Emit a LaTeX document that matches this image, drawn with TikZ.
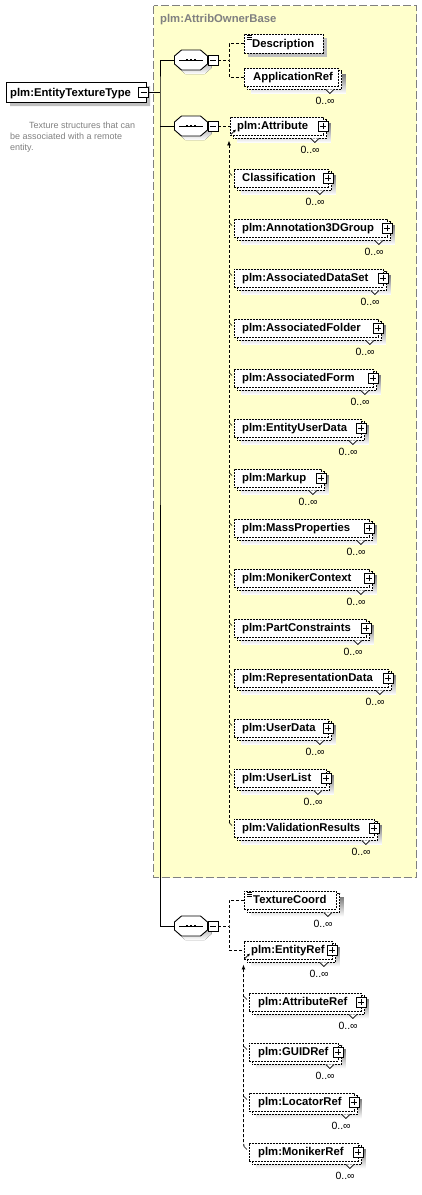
\documentclass[tikz,border=0pt]{standalone}
\usepackage{fontspec}
\setmainfont{Liberation Sans}
\usetikzlibrary{arrows.meta,shapes.misc,shadows}
\definecolor{groupfill}{RGB}{255,255,204}
\definecolor{groupline}{RGB}{128,128,128}
\definecolor{shade}{RGB}{192,192,192}
\definecolor{doctext}{RGB}{128,128,128}
\pgfdeclarelayer{bg}
\pgfdeclarelayer{back}
\pgfsetlayers{bg,back,main}

% repeating element: second frame behind, shadow, notch, 0..oo
\newcommand{\stackframe}[1]{%
  \begin{pgfonlayer}{back}
    \fill[shade] ([shift={(7,7)}]#1.north west) rectangle ([shift={(7,7)}]#1.south east);
    \draw[elemline,fill=white] ([shift={(3,3)}]#1.north west) rectangle ([shift={(3,3)}]#1.south east);
  \end{pgfonlayer}
  \draw[notch] ([shift={(-13,3)}]#1.south east) -- ([shift={(-9,7)}]#1.south east) -- ([shift={(-5,3)}]#1.south east);
  \node[occ] (#1-o) at ([shift={(-4,18)}]#1.south east) {0..∞};}
\newcommand{\plusbox}[1]{%
  \node[pmbox] (#1-p) at ([xshift=-1]#1.east) {};
  \draw[pmline] ([xshift=-3]#1-p.center) -- ([xshift=3]#1-p.center)
    ([yshift=-3]#1-p.center) -- ([yshift=3]#1-p.center);}
\newcommand{\minusbox}[2]{%
  \node[pmbox] (#1) at #2 {};
  \draw[pmline] ([xshift=-3]#1.center) -- ([xshift=3]#1.center);}
% octagon of a sequence compositor
\newcommand{\seqshape}[1]{%
  \fill[shade] ([shift={(4,4)}]#1.center) +(-16.5,-4) -- +(-9.5,-10) -- +(9.5,-10) -- +(16.5,-4)
    -- +(16.5,4) -- +(9.5,10) -- +(-9.5,10) -- +(-16.5,4) -- cycle;
  \filldraw[fill=white,line width=0.9pt] (#1.center) +(-16.5,-4) -- +(-9.5,-10) -- +(9.5,-10) -- +(16.5,-4)
    -- +(16.5,4) -- +(9.5,10) -- +(-9.5,10) -- +(-16.5,4) -- cycle;
  \draw[line width=0.9pt] ([xshift=5]#1.west) -- ([xshift=-5]#1.east);
  \foreach \dx in {-4,0,4} \fill ([xshift=\dx]#1.center) +(-1.2,-1.2) rectangle +(1.2,1.2);}
\newcommand{\docicon}[1]{%
  \foreach \dy in {1.5,3.5,5.5}
    \draw[line width=0.5pt] ([shift={(3,\dy)}]#1.north west) -- ++(5,0);}

\begin{document}
\begin{tikzpicture}[x=1pt,y=-1pt,>=Latex]
\tikzset{
  elemline/.style={line width=0.9pt,dash pattern=on 2pt off 1pt},
  elemframe/.style={elemline,draw,fill=white,inner sep=0pt,minimum height=18,anchor=west},
  conn/.style={line width=0.9pt,dash pattern=on 3pt off 2pt},
  trunkline/.style={line width=0.9pt},
  lab/.style={font=\fontsize{11.3}{13}\selectfont\bfseries,inner sep=0pt,anchor=base west},
  occ/.style={font=\fontsize{10.5}{12}\selectfont,inner sep=0pt,anchor=base east},
  doc/.style={font=\fontsize{9}{11}\selectfont,text=doctext,inner sep=0pt,anchor=base west},
  pmbox/.style={draw,solid,fill=white,line width=0.7pt,minimum size=10,inner sep=0pt},
  pmline/.style={line width=0.7pt},
  notch/.style={solid,fill=white,line width=0.7pt},
  shadowed/.style={drop shadow={shadow xshift=4pt,shadow yshift=-4pt,fill=shade,opacity=1}},
  seqbox/.style={minimum width=33,minimum height=20,inner sep=0pt},
  rootshape/.style={draw,fill=white,line width=0.9pt,chamfered rectangle,chamfered rectangle corners={north west,south west},chamfered rectangle xsep=3pt,chamfered rectangle ysep=3pt,minimum width=140,minimum height=20,inner sep=0pt,shadowed},
  subarrow/.style={-{Latex[length=3pt,width=3pt]},line width=0.7pt},
  subhead/.style={conn,{Latex[length=5pt,width=4pt]}-}
}
\useasboundingbox (0,0) rectangle (422,1195);

% group box
\begin{pgfonlayer}{bg}
\draw[groupline,fill=groupfill,line width=0.9pt,dash pattern=on 8pt off 3pt] (153.5,5.5) rectangle (416.5,877.5);
\end{pgfonlayer}
\node[lab,text=groupline] (grp) at (160,22.5) {plm:AttribOwnerBase};

% root type
\node[rootshape] (rootbox) at (76,92) {};
\node[lab] (root) at (10,96) {plm:EntityTextureType};
\minusbox{root-m}{(143.5,92)}
\node[doc] (doc1) at (29,128) {Texture structures that can};
\node[doc] (doc2) at (10,139) {be associated with a remote};
\node[doc] (doc3) at (10,150) {entity.};

% sequences
\node[seqbox] (seq1) at (191,60) {};
\seqshape{seq1}
\minusbox{seq1-m}{(213,60)}
\node[seqbox] (seq2) at (191,126) {};
\seqshape{seq2}
\minusbox{seq2-m}{(213,126)}
\node[seqbox] (seq3) at (191,926) {};
\seqshape{seq3}
\minusbox{seq3-m}{(213,926)}
\coordinate (trunk) at (160,92);
\draw[trunkline] (root-m.east) -- (trunk);
\draw[trunkline] (seq1.west) -| (trunk) |- (seq3.west);
\draw[trunkline] (seq2.west) -- (seq2.west -| trunk);

% first sequence
\node[elemframe,minimum width=79,minimum height=19,shadowed] (desc) at (244,43.5) {};
\docicon{desc}
\node[lab] (desc-t) at ([shift={(8,3.5)}]desc.west) {Description};
\node[elemframe,minimum width=94] (appref) at (244,77) {};
\stackframe{appref}
\node[lab] (appref-t) at ([shift={(9,3.5)}]appref.west) {ApplicationRef};
\coordinate (br1) at (229,60);
\draw[conn] (seq1-m.east) -- (br1);
\draw[conn] (desc.west) -| (br1) |- (appref.west);

% second sequence: plm:Attribute and its substitutes
\node[elemframe,minimum width=93] (attr) at (230,126) {};
\stackframe{attr}
\plusbox{attr}
\node[lab] (attr-t) at ([shift={(7,3.5)}]attr.west) {plm:Attribute};
\draw[subarrow] ([shift={(1,-1)}]attr.south west) -- ([shift={(6,-6)}]attr.south west);
\draw[conn] (seq2-m.east) -- (attr.west);
\foreach \nm/\txt/\xr [count=\k from 0] in {cls/Classification/328,ann/plm:Annotation3DGroup/387,ads/plm:AssociatedDataSet/383,afo/plm:AssociatedFolder/378,afm/plm:AssociatedForm/373,eud/plm:EntityUserData/361,mku/plm:Markup/321,mas/plm:MassProperties/369,mon/plm:MonikerContext/369,pcs/plm:PartConstraints/366,rep/plm:RepresentationData/388,uda/plm:UserData/328,uli/plm:UserList/326,vres/plm:ValidationResults/374} {
  \pgfmathsetmacro{\yc}{178+50*\k}
  \node[elemframe,minimum width={\xr-234}] (\nm) at (234,\yc) {};
  \stackframe{\nm}
  \plusbox{\nm}
  \node[lab] (\nm-t) at ([shift={(8,3.5)}]\nm.west) {\txt};
  \draw[line width=0.6pt] ([shift={(-5,4)}]\nm.north west) -- ([shift={(-2,7)}]\nm.north west);
}
\coordinate (sub2) at ([shift={(-1,5)}]attr.south west);
\draw[subhead] (sub2) -- (sub2 |- vres.north west) -- ([shift={(-5,4)}]vres.north west);

% third sequence
\node[elemframe,minimum width=92] (tcoord) at (244,900) {};
\stackframe{tcoord}
\docicon{tcoord}
\node[lab] (tcoord-t) at ([shift={(9,3.5)}]tcoord.west) {TextureCoord};
\node[elemframe,minimum width=88] (eref) at (244,950) {};
\stackframe{eref}
\plusbox{eref}
\node[lab] (eref-t) at ([shift={(7,3.5)}]eref.west) {plm:EntityRef};
\draw[subarrow] ([shift={(1,-1)}]eref.south west) -- ([shift={(6,-6)}]eref.south west);
\coordinate (br3) at (229,926);
\draw[conn] (seq3-m.east) -- (br3);
\draw[conn] (tcoord.west) -| (br3) |- (eref.west);
\foreach \nm/\txt/\xr [count=\k from 0] in {aref/plm:AttributeRef/361,gref/plm:GUIDRef/338,lref/plm:LocatorRef/354,mref/plm:MonikerRef/358} {
  \pgfmathsetmacro{\yc}{1002+50*\k}
  \node[elemframe,minimum width={\xr-249}] (\nm) at (249,\yc) {};
  \stackframe{\nm}
  \plusbox{\nm}
  \node[lab] (\nm-t) at ([shift={(9,3.5)}]\nm.west) {\txt};
  \draw[line width=0.6pt] ([shift={(-5,4)}]\nm.north west) -- ([shift={(-2,7)}]\nm.north west);
}
\coordinate (sub3) at ([shift={(-0.5,5)}]eref.south west);
\draw[subhead] (sub3) -- (sub3 |- mref.north west) -- ([shift={(-5,4)}]mref.north west);
\end{tikzpicture}
\end{document}
